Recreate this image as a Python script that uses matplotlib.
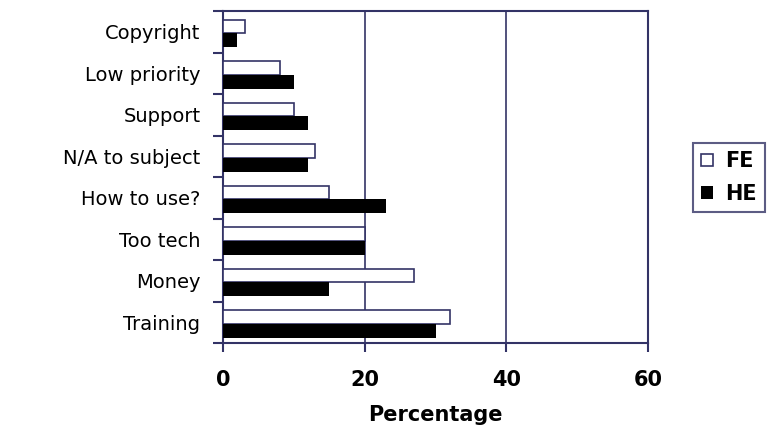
import numpy as np
import matplotlib.pyplot as plt

categories = ["Training", "Money", "Too tech", "How to use?", "N/A to subject",
              "Support", "Low priority", "Copyright"]
fe = [32, 27, 20, 15, 13, 10, 8, 3]
he = [30, 15, 20, 23, 12, 12, 10, 2]

navy = "#333366"

fig = plt.figure(figsize=(7.7, 4.3), dpi=100)
ax = fig.add_axes([0.29, 0.2023, 0.5516, 0.7721])

y = np.arange(len(categories))
h = 0.33
ax.barh(y + h / 2 - 0.04, fe, height=h, color="white", edgecolor=navy, linewidth=1.2,
        label="FE", zorder=3)
ax.barh(y - h / 2 - 0.04, he, height=h, color="black", edgecolor="black", linewidth=0,
        label="HE", zorder=3)

ax.set_xlim(0, 60)
ax.set_ylim(-0.5, len(categories) - 0.5)
ax.set_xticks([0, 20, 40, 60])
ax.set_xticklabels(["0", "20", "40", "60"], fontsize=15, fontweight="bold")
ax.set_yticks(y)
ax.set_yticklabels(categories, fontsize=14)
ax.set_yticks(np.arange(-0.5, len(categories)), minor=True)
ax.tick_params(axis="y", which="major", length=0, pad=16.5)
ax.tick_params(axis="y", which="minor", length=7.2, color=navy, width=1.5)
ax.tick_params(axis="x", length=6.5, color=navy, width=1.5, pad=13)
ax.grid(axis="x", color=navy, linewidth=1.2, zorder=0)
for s in ax.spines.values():
    s.set_color(navy)
    s.set_linewidth(1.5)
ax.set_xlabel("Percentage", fontsize=15, fontweight="bold", labelpad=11)

leg = ax.legend(loc="upper left", bbox_to_anchor=(1.106, 0.602), frameon=True,
                fancybox=False, handlelength=0.55, handleheight=0.55,
                handletextpad=0.6, borderpad=0.4, labelspacing=0.6,
                borderaxespad=0, prop={"weight": "bold", "size": 15})
leg.get_frame().set_edgecolor(navy)
leg.get_frame().set_linewidth(1.5)

fig.savefig("out.png", dpi=100)
